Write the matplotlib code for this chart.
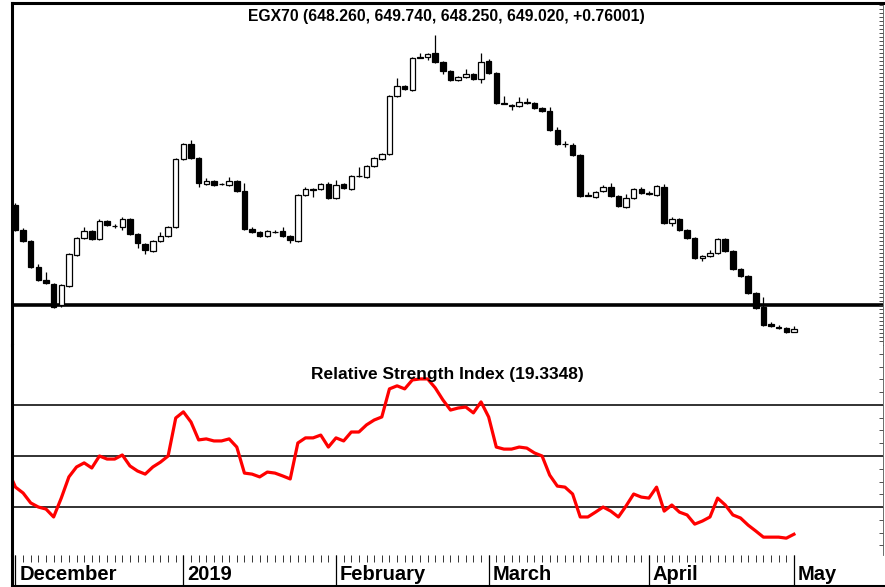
import matplotlib
matplotlib.use("Agg")
import matplotlib.pyplot as plt
from matplotlib.patches import Rectangle
from matplotlib.ticker import MultipleLocator
import numpy as np

plt.rcParams['font.family'] = ['Liberation Sans', 'DejaVu Sans']

# daily OHLC, EGX70, 2 Dec 2018 .. 2 May 2019
opens = [680.0, 673.8, 671.0, 664.5, 661.3, 660.3, 655.0, 659.8, 667.5, 671.8,
         673.5, 671.5, 676.0, 674.8, 674.5, 676.5, 672.8, 670.3, 668.5, 671.0,
         672.3, 674.5, 691.5, 695.3, 691.8, 685.3, 686.0, 685.3, 685.0, 686.0,
         683.5, 674.0, 673.3, 672.3, 673.3, 673.5, 672.3, 671.0, 682.5, 684.0,
         684.0, 685.3, 681.8, 685.3, 684.0, 687.3, 687.0, 689.8, 691.5, 692.8,
         707.3, 709.8, 708.8, 717.0, 717.0, 718.0, 715.8, 713.5, 711.3, 712.0,
         712.8, 711.5, 716.0, 713.0, 705.5, 705.0, 704.8, 705.5, 705.5, 704.3,
         703.5, 698.8, 695.3, 695.0, 692.5, 682.5, 682.0, 683.5, 684.5, 682.3,
         679.5, 681.8, 684.0, 683.0, 682.5, 684.5, 675.5, 676.5, 673.8, 671.8,
         666.8, 667.3, 668.0, 671.5, 668.5, 664.0, 662.3, 658.0, 654.5, 650.3,
         649.5, 649.3, 648.26]
highs = [680.5, 674.3, 671.3, 665.3, 663.3, 660.5, 660.3, 668.0, 672.0, 674.5,
         673.8, 676.5, 676.3, 675.3, 677.0, 676.8, 673.0, 670.5, 671.3, 673.3,
         674.8, 691.8, 695.5, 696.3, 692.0, 686.8, 686.3, 685.5, 687.0, 686.3,
         685.5, 674.5, 673.5, 673.8, 673.8, 674.5, 672.5, 682.8, 684.5, 684.3,
         685.5, 685.8, 686.3, 685.5, 687.5, 689.5, 690.0, 692.0, 693.0, 707.5,
         711.8, 710.0, 717.0, 718.0, 718.0, 722.5, 716.0, 713.8, 712.3, 714.0,
         713.0, 718.0, 716.5, 713.3, 707.3, 705.3, 707.0, 706.8, 705.8, 704.5,
         704.5, 699.5, 696.0, 695.5, 692.8, 683.3, 683.5, 685.0, 685.5, 682.5,
         682.8, 684.3, 684.5, 683.5, 685.0, 685.3, 677.0, 676.8, 674.0, 672.0,
         667.5, 668.8, 671.8, 671.8, 668.8, 664.3, 662.5, 658.3, 657.0, 650.8,
         650.0, 649.5, 649.74]
lows = [673.5, 670.8, 664.3, 661.0, 660.3, 654.3, 654.5, 659.5, 667.3, 671.5,
        671.3, 671.3, 674.8, 674.3, 673.8, 672.5, 669.3, 667.8, 668.3, 670.8,
        672.0, 674.3, 691.3, 691.5, 684.5, 685.0, 684.8, 685.0, 684.8, 683.3,
        673.8, 673.0, 672.0, 672.0, 673.0, 672.0, 670.5, 670.8, 682.3, 682.0,
        683.8, 681.5, 681.5, 684.0, 683.8, 687.0, 686.8, 689.5, 691.3, 692.5,
        707.0, 708.8, 708.5, 716.8, 716.3, 715.5, 712.8, 711.0, 711.0, 711.8,
        711.3, 710.5, 712.8, 705.3, 705.3, 703.8, 704.5, 705.3, 704.0, 703.3,
        698.5, 695.0, 694.5, 692.3, 682.0, 682.3, 681.8, 683.3, 682.0, 679.5,
        679.3, 681.5, 682.8, 682.5, 682.3, 675.3, 674.8, 673.5, 671.5, 666.5,
        666.0, 667.0, 667.8, 668.3, 663.8, 662.0, 657.8, 654.0, 649.8, 649.5,
        649.0, 648.0, 648.25]
closes = [673.8, 671.0, 664.5, 661.3, 660.5, 654.5, 660.0, 667.8, 671.8, 673.5,
          671.5, 676.0, 675.0, 674.7, 676.5, 672.8, 670.5, 668.8, 671.0, 672.3,
          674.5, 691.5, 695.3, 691.8, 685.5, 686.0, 685.0, 685.2, 686.0, 683.5,
          674.0, 673.3, 672.3, 673.5, 673.2, 672.3, 671.3, 682.5, 684.0, 683.9,
          685.3, 681.8, 685.0, 684.3, 687.3, 687.2, 689.8, 691.8, 692.8, 707.3,
          709.8, 709.0, 716.8, 716.9, 717.8, 715.8, 713.5, 711.3, 712.0, 712.8,
          711.5, 715.8, 713.0, 705.5, 705.4, 704.9, 705.8, 705.8, 704.3, 703.5,
          698.8, 695.3, 695.2, 692.5, 682.3, 682.4, 683.3, 684.5, 682.3, 679.8,
          681.8, 684.0, 683.0, 682.9, 684.8, 675.5, 676.5, 673.8, 671.8, 666.8,
          667.3, 668.0, 671.5, 668.5, 664.0, 662.3, 658.0, 654.3, 650.0, 649.8,
          649.4, 648.3, 649.02]

# RSI, first value is the day before the first candle
rsi = [44.5,
       37.8, 35.5, 31.6, 30.0, 29.2, 26.1, 33.5, 41.8, 45.7, 47.3,
       45.3, 50.0, 48.8, 48.8, 50.4, 46.1, 44.1, 42.9, 45.7, 47.6,
       50.0, 64.9, 67.3, 63.3, 56.3, 56.7, 55.9, 55.9, 56.7, 53.5,
       43.3, 42.9, 41.8, 43.7, 43.3, 42.2, 41.0, 55.1, 57.1, 57.1,
       58.2, 53.5, 57.1, 55.9, 59.4, 59.4, 62.2, 64.1, 65.3, 76.3,
       77.5, 76.3, 79.8, 80.2, 80.2, 76.7, 72.0, 68.0, 68.8, 69.2,
       66.9, 71.2, 65.3, 53.5, 52.7, 52.7, 53.5, 53.1, 51.2, 50.0,
       42.5, 38.2, 37.8, 35.1, 26.1, 26.1, 28.0, 30.0, 28.4, 26.1,
       30.4, 35.1, 33.9, 33.5, 37.8, 28.4, 30.8, 28.0, 26.9, 23.3,
       24.5, 26.1, 33.5, 30.8, 26.9, 25.7, 22.9, 20.6, 18.2, 18.2,
       18.2, 17.8, 19.33]

support = 655.0
rsi_levels = [30, 50, 70]
month_names = ['December', '2019', 'February', 'March', 'April', 'May']
month_first = [0, 22, 42, 62, 83, 102]
title = 'EGX70 (648.260, 649.740, 648.250, 649.020, +0.76001)'
rsi_title = 'Relative Strength Index (19.3348)'

W, H = 885, 587
fig = plt.figure(figsize=(W / 100, H / 100), dpi=100)


def box(top, bottom):
    # pixel rows -> figure fraction rectangle
    return [11.5 / W, 1 - bottom / H, (883 - 11.5) / W, (bottom - top) / H]


ax = fig.add_axes(box(2.5, 345))
ax_rsi = fig.add_axes(box(345, 555), sharex=ax)
ax_dt = fig.add_axes(box(555, 585.5), sharex=ax)

x = np.arange(len(closes))
ax.set_xlim(-0.52, 113.67)
ax.set_ylim(645.05, 730.67)

# candles
ax.axhline(support, color='black', lw=2.6, zorder=1)
ax.vlines(x, lows, highs, color='black', lw=0.9, zorder=2)
for i in range(len(closes)):
    o, c = opens[i], closes[i]
    fc = 'black' if c < o else 'white'
    ax.add_patch(Rectangle((i - 0.36, min(o, c)), 0.72, max(abs(c - o), 0.1),
                           facecolor=fc, edgecolor='black', lw=0.9, zorder=3))

# RSI panel
ax_rsi.set_ylim(11.2, 93.5)
for lv in rsi_levels:
    ax_rsi.axhline(lv, color='#222222', lw=1.3, zorder=1)
ax_rsi.plot(np.arange(len(rsi)) - 1, rsi, color='#ff0000', lw=2.3,
            solid_joinstyle='round', zorder=2)

# date strip
ax_dt.set_ylim(0, 1)
ax_dt.vlines(x, 0.76, 1, color='#333333', lw=0.7)
ax_dt.vlines(month_first, 0, 1, color='black', lw=0.9)
for pos, name in zip(month_first, month_names):
    ax_dt.text(pos + 0.5, 0.36, name, fontsize=14.5, fontweight='bold',
               ha='left', va='center')

for a in (ax, ax_rsi, ax_dt):
    for s in a.spines.values():
        s.set_visible(False)
    a.spines['left'].set_visible(True)
    a.spines['left'].set_linewidth(2.2)
    a.tick_params(axis='x', bottom=False, labelbottom=False)
    a.tick_params(axis='y', left=False, labelleft=False)

ax.spines['top'].set_visible(True)
ax.spines['top'].set_linewidth(2.2)
ax_dt.spines['bottom'].set_visible(True)
ax_dt.spines['bottom'].set_linewidth(2.2)
ax_dt.set_yticks([])

ax.yaxis.set_major_locator(MultipleLocator(1))
ax_rsi.yaxis.set_major_locator(MultipleLocator(5))
for a in (ax, ax_rsi):
    a.spines['right'].set_visible(True)
    a.spines['right'].set_linewidth(0.6)
    a.spines['right'].set_color('#555555')
    a.tick_params(axis='y', right=True, direction='in', length=3,
                  width=0.6, color='#333333', labelright=False)

fig.text(446 / W, 1 - 17 / H, title, ha='center', va='center',
         fontsize=11.3, fontweight='bold')
fig.text(447 / W, 1 - 375 / H, rsi_title, ha='center', va='center',
         fontsize=12.5, fontweight='bold')

fig.savefig('out.png', dpi=100)
